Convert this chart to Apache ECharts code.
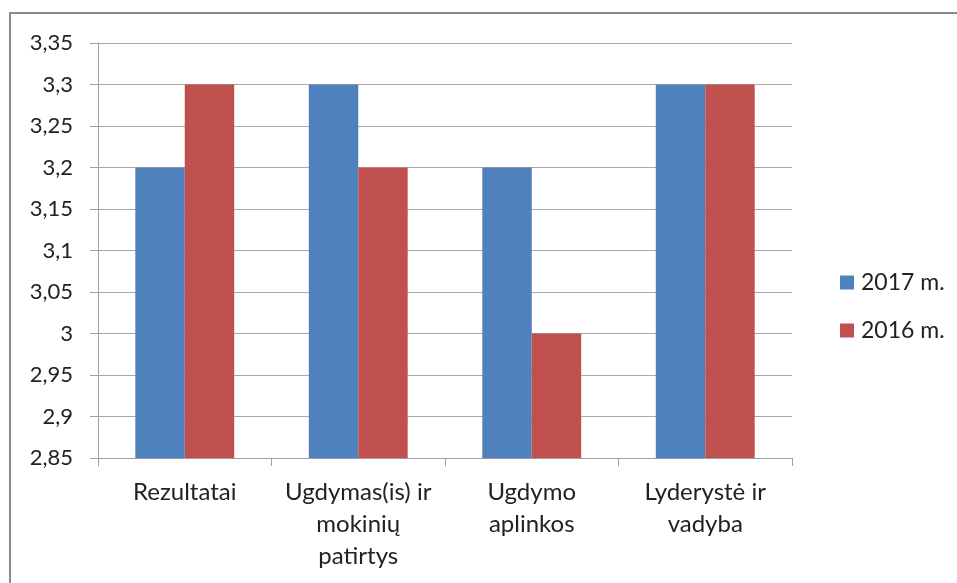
<!DOCTYPE html>
<html>
<head>
<meta charset="utf-8">
<script src="https://cdn.jsdelivr.net/npm/echarts@6/dist/echarts.min.js"></script>
<style>
html, body { margin: 0; padding: 0; background: #fff; }
#chart { width: 957px; height: 583px; }
</style>
</head>
<body>
<div id="chart"></div>
<script>
// duomenys
var categories = ['Rezultatai', 'Ugdymas(is) ir\nmokinių\npatirtys', 'Ugdymo\naplinkos', 'Lyderystė ir\nvadyba'];
var seriesNames = ['2017 m.', '2016 m.'];
var values2017 = [3.2, 3.3, 3.2, 3.3];
var values2016 = [3.3, 3.2, 3.0, 3.3];

var font = 'Lato, "Open Sans", sans-serif';

var myChart = echarts.init(document.getElementById('chart'));

var option = {
    animation: false,
    backgroundColor: '#fff',
    graphic: [{
        type: 'rect',
        shape: { x: 10, y: 13, width: 960, height: 600 },
        style: { fill: 'none', stroke: '#8a8a8a', lineWidth: 2 },
        silent: true
    }],
    grid: {
        left: 98,
        right: 165,
        top: 43,
        bottom: 125
    },
    legend: {
        orient: 'vertical',
        left: 835,
        top: 266,
        itemWidth: 14,
        itemHeight: 14,
        itemGap: 25,
        icon: 'rect',
        data: seriesNames,
        textStyle: { fontFamily: font, fontSize: 23, color: '#222', lineHeight: 23, padding: [0, 0, 0, 2] }
    },
    xAxis: {
        type: 'category',
        data: categories,
        axisLine: { lineStyle: { color: '#a0a0a0', width: 1 } },
        axisTick: { show: true, length: 8, alignWithLabel: false, lineStyle: { color: '#a0a0a0' } },
        axisLabel: {
            interval: 0,
            margin: 18,
            fontFamily: font,
            fontSize: 24,
            color: '#222',
            lineHeight: 32
        }
    },
    yAxis: {
        type: 'value',
        min: 2.85,
        max: 3.35,
        interval: 0.05,
        axisLine: { show: true, lineStyle: { color: '#a0a0a0', width: 1 } },
        axisTick: { show: true, length: 8, lineStyle: { color: '#a0a0a0' } },
        splitLine: { show: true, lineStyle: { color: '#a8a8a8', width: 1 } },
        axisLabel: {
            margin: 25,
            fontFamily: font,
            fontSize: 22,
            color: '#222',
            formatter: function (v) {
                return String(Math.round(v * 100) / 100).replace('.', ',');
            }
        }
    },
    series: [{
        name: seriesNames[0],
        type: 'bar',
        data: values2017,
        barGap: '0%',
        barCategoryGap: '43%',
        itemStyle: { color: '#4F81BD' }
    }, {
        name: seriesNames[1],
        type: 'bar',
        data: values2016,
        barGap: '0%',
        barCategoryGap: '43%',
        itemStyle: { color: '#C0504D' }
    }]
};

myChart.setOption(option);
</script>
</body>
</html>
